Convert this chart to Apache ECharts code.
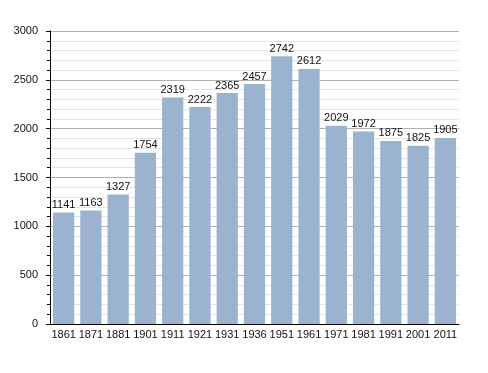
<!DOCTYPE html>
<html><head><meta charset="utf-8">
<script src="https://cdn.jsdelivr.net/npm/echarts@6/dist/echarts.min.js"></script>
<style>html,body{margin:0;padding:0;background:#fff}#c{width:488px;height:373px}</style>
</head><body><div id="c"></div>
<script>
const categories = ['1861','1871','1881','1901','1911','1921','1931','1936','1951','1961','1971','1981','1991','2001','2011'];
const population = [1141,1163,1327,1754,2319,2222,2365,2457,2742,2612,2029,1972,1875,1825,1905];
const yTicks = [0,500,1000,1500,2000,2500,3000];

const chart = echarts.init(document.getElementById('c'), null, {renderer:'canvas'});
const font = 'Liberation Sans, Arial, sans-serif';
chart.setOption({
  animation:false,
  grid:{left:50,right:29,top:31,bottom:49},
  xAxis:{type:'category',data:categories,
    axisLine:{lineStyle:{color:'#000',width:1}},
    axisTick:{show:false},
    axisLabel:{color:'#111',fontFamily:font,fontSize:11,margin:5,interval:0}},
  yAxis:{type:'value',min:yTicks[0],max:yTicks[yTicks.length-1],interval:500,
    axisLine:{show:true,lineStyle:{color:'#000'}},
    axisTick:{show:true,inside:false,length:4,lineStyle:{color:'#000'}},
    minorTick:{show:true,splitNumber:5,length:3,lineStyle:{color:'#000'}},
    splitLine:{lineStyle:{color:'#b0b0b0',width:1}},
    minorSplitLine:{show:true,lineStyle:{color:'#e4e4e4',width:1}},
    axisLabel:{color:'#111',fontFamily:font,fontSize:11,margin:12,formatter:v=>String(v)}},
  series:[{type:'bar',data:population,barCategoryGap:'22%',
    itemStyle:{color:'#9cb3cf'},
    label:{show:true,position:'top',distance:2,color:'#111',fontFamily:font,fontSize:11}}]
});
</script></body></html>
